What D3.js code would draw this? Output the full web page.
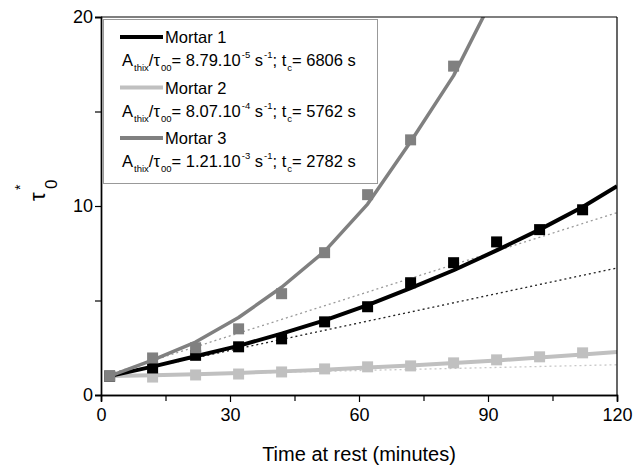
<!DOCTYPE html>
<html>
<head>
<meta charset="utf-8">
<script src="https://cdn.jsdelivr.net/npm/d3@7"></script>
<style>
  html, body { margin: 0; padding: 0; background: #fff; }
  svg { display: block; font-family: "Liberation Sans", Arial, sans-serif; }
</style>
</head>
<body>
<svg id="chart" width="634" height="468"></svg>
<script>
// ---- Data ----
const pointTime = [2, 12, 22, 32, 42, 52, 62, 72, 82, 92, 102, 112];
const mortar1Points = [1, 1.43, 2.1, 2.55, 2.97, 3.87, 4.67, 5.94, 7.0, 8.1, 8.75, 9.8];
const mortar2Points = [1, 0.95, 1.06, 1.11, 1.22, 1.38, 1.49, 1.54, 1.7, 1.86, 2.02, 2.23];
const mortar3Time = [2, 12, 22, 32, 42, 52, 62, 72, 82];
const mortar3Points = [1, 1.96, 2.5, 3.5, 5.36, 7.53, 10.6, 13.5, 17.4];

const fitTime = [2, 12, 22, 32, 42, 52, 62, 72, 82, 92, 102, 112, 120];
const mortar1Fit = [1, 1.5, 2.05, 2.6, 3.25, 3.95, 4.75, 5.65, 6.6, 7.65, 8.75, 9.95, 11.05];
const mortar2Fit = [1, 1.04, 1.1, 1.17, 1.25, 1.34, 1.45, 1.56, 1.69, 1.83, 1.98, 2.14, 2.28];
const mortar3FitTime = [2, 12, 22, 32, 42, 52, 62, 72, 82, 92];
const mortar3Fit = [1, 1.85, 2.8, 4.1, 5.7, 7.6, 10.1, 13.4, 16.9, 21.4];

const tangentTime = [2, 120];
const tangent1 = [1, 6.72];
const tangent2 = [1, 1.6];
const tangent3 = [1.1, 9.65];

const xMajorTicks = [0, 30, 60, 90, 120];
const xMinorTicks = [15, 45, 75, 105];
const yMajorTicks = [0, 10, 20];
const yMinorTicks = [5, 15];

const legendNames = ["Mortar 1", "Mortar 2", "Mortar 3"];
const legendRatio = ["8.79", "8.07", "1.21"];
const legendExp = ["-5", "-4", "-3"];
const legendTc = ["6806", "5762", "2782"];

const xTitle = "Time at rest (minutes)";

// ---- Layout ----
const svg = d3.select("#chart");
const W = 634, H = 468;
const m = { left: 101, right: 17, top: 17, bottom: 73 };
const x = d3.scaleLinear().domain([0, 120]).range([m.left, W - m.right]);
const y = d3.scaleLinear().domain([0, 20]).range([H - m.bottom, m.top]);

svg.append("defs").append("clipPath").attr("id", "plotclip")
  .append("rect").attr("x", m.left).attr("y", m.top)
  .attr("width", W - m.right - m.left).attr("height", H - m.bottom - m.top);

const plot = svg.append("g").attr("clip-path", "url(#plotclip)");

const colors = { m1: "#000000", m2: "#c0c0c0", m3: "#808080" };

const line = d3.line().x(d => x(d[0])).y(d => y(d[1]));
const zip = (a, b) => a.map((v, i) => [v, b[i]]);

// tangent dotted lines
[[tangent3, "#9a9a9a"], [tangent1, "#222"], [tangent2, "#c8c8c8"]].forEach(([vals, c]) => {
  plot.append("path").datum(zip(tangentTime, vals)).attr("d", line)
    .attr("fill", "none").attr("stroke", c).attr("stroke-width", 1.3)
    .attr("stroke-dasharray", "2,3");
});

function series(tFit, vFit, tPts, vPts, color, lw) {
  plot.append("path").datum(zip(tFit, vFit)).attr("d", line)
    .attr("fill", "none").attr("stroke", color).attr("stroke-width", lw)
    .attr("stroke-linejoin", "round");
  const s = 11;
  plot.selectAll(null).data(zip(tPts, vPts)).enter().append("rect")
    .attr("x", d => x(d[0]) - s / 2).attr("y", d => y(d[1]) - s / 2)
    .attr("width", s).attr("height", s).attr("fill", color);
}
series(fitTime, mortar2Fit, pointTime, mortar2Points, colors.m2, 4);
series(fitTime, mortar1Fit, pointTime, mortar1Points, colors.m1, 4);
series(mortar3FitTime, mortar3Fit, mortar3Time, mortar3Points, colors.m3, 3.5);

// frame
svg.append("line").attr("x1", x(0)).attr("x2", x(120)).attr("y1", y(20)).attr("y2", y(20))
  .attr("stroke", "#000").attr("stroke-width", 1.2);
svg.append("line").attr("x1", x(120)).attr("x2", x(120)).attr("y1", y(20)).attr("y2", y(0))
  .attr("stroke", "#000").attr("stroke-width", 1.2);

// axes
const xAxis = svg.append("g").attr("transform", `translate(0,${y(0)})`)
  .call(d3.axisBottom(x).tickValues(xMajorTicks).tickSize(7).tickPadding(6).tickFormat(d3.format("d")));
const xMinor = svg.append("g").attr("transform", `translate(0,${y(0)})`)
  .call(d3.axisBottom(x).tickValues(xMinorTicks).tickSize(6).tickFormat(""));
const yAxis = svg.append("g").attr("transform", `translate(${x(0)},0)`)
  .call(d3.axisLeft(y).tickValues(yMajorTicks).tickSize(6).tickPadding(2).tickFormat(d3.format("d")));
const yMinor = svg.append("g").attr("transform", `translate(${x(0)},0)`)
  .call(d3.axisLeft(y).tickValues(yMinorTicks).tickSize(6).tickFormat(""));
[xAxis, xMinor, yAxis, yMinor].forEach(g => {
  g.selectAll(".domain").attr("stroke", "#000").attr("stroke-width", 1.4);
  g.selectAll(".tick line").attr("stroke", "#000").attr("stroke-width", 1.2);
  g.selectAll(".tick text").attr("fill", "#000").attr("font-size", 18)
    .attr("font-family", "Liberation Sans, Arial, sans-serif");
});

// axis titles
svg.append("text").attr("x", (x(0) + x(120)) / 2).attr("y", 461)
  .attr("text-anchor", "middle").attr("font-size", 20).text(xTitle);

svg.append("text").attr("transform", "translate(45,201) rotate(-90)")
  .attr("font-size", 22).text("τ");
svg.append("text").attr("transform", "translate(57,189) rotate(-90)")
  .attr("font-size", 17).text("0");
svg.append("text").attr("transform", "translate(25,190) rotate(-90)")
  .attr("font-size", 14).text("*");

// legend
const lg = svg.append("g");
lg.append("rect").attr("x", 103.5).attr("y", 19.5).attr("width", 274).attr("height", 164)
  .attr("fill", "#fff").attr("stroke", "#999").attr("stroke-width", 1);
const lgColors = [colors.m1, colors.m2, colors.m3];
const step = 50.5;
legendNames.forEach((name, i) => {
  const y0 = 37 + i * step;
  lg.append("line").attr("x1", 120).attr("x2", 163).attr("y1", y0).attr("y2", y0)
    .attr("stroke", lgColors[i]).attr("stroke-width", 4);
  lg.append("text").attr("x", 165).attr("y", y0 + 6).attr("font-size", 16.5).text(name);
  const t = lg.append("text").attr("x", 122).attr("y", y0 + 29).attr("font-size", 16.5);
  t.append("tspan").text("A");
  t.append("tspan").attr("font-size", 9.5).attr("dy", 5).attr("dx", 1).text("thix");
  t.append("tspan").attr("dy", -5).text("/τ");
  t.append("tspan").attr("font-size", 9.5).attr("dy", 5).attr("dx", 1).text("00");
  t.append("tspan").attr("dy", -5).text("= " + legendRatio[i] + ".10");
  t.append("tspan").attr("font-size", 9.5).attr("dy", -8).attr("dx", 1).text(legendExp[i]);
  t.append("tspan").attr("dy", 8).text(" s");
  t.append("tspan").attr("font-size", 9.5).attr("dy", -8).attr("dx", 1).text("-1");
  t.append("tspan").attr("dy", 8).text("; t");
  t.append("tspan").attr("font-size", 9.5).attr("dy", 5).attr("dx", 1).text("c");
  t.append("tspan").attr("dy", -5).text("= " + legendTc[i] + " s");
});
</script>
</body>
</html>
